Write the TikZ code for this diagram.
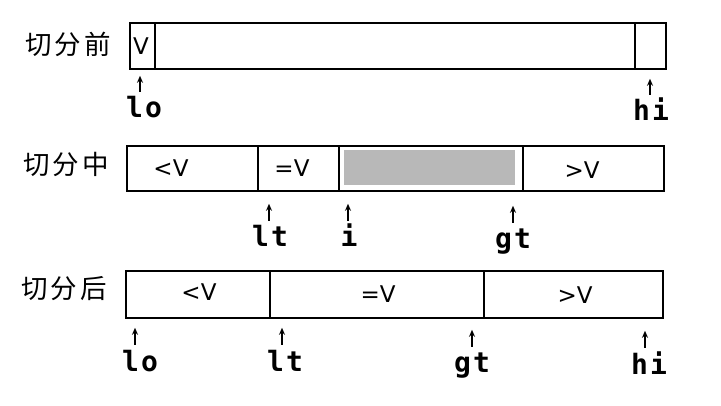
\documentclass[tikz,border=0pt]{standalone}
\usepackage{fontspec}
\usetikzlibrary{arrows.meta}
\newfontfamily\cjk{Noto Sans CJK SC}[LetterSpace=12]
\newfontfamily\cellfont{DejaVu Sans}
\newfontfamily\ptrfont{DejaVu Sans Mono}[BoldFont={DejaVu Sans Mono Bold}, LetterSpace=8]
\tikzset{
  cell/.style={draw=black, line width=1.6pt, inner sep=0pt, anchor=north west},
  graycell/.style={fill=black!28, draw=none, inner sep=0pt, anchor=north west},
  rowlbl/.style={font=\cjk\fontsize{26.5}{26.5}\selectfont, inner sep=0pt},
  val/.style={font=\cellfont\fontsize{23}{23}\selectfont, inner sep=0pt},
  ptrlbl/.style={font=\ptrfont\bfseries\fontsize{28}{28}\selectfont, inner sep=0pt, anchor=base, text height=20pt, text depth=0pt},
  ptr/.style={line width=1.4pt, -{Stealth[length=7pt,width=6pt]}}
}
\begin{document}
\begin{tikzpicture}[x=1pt,y=-1pt]
\useasboundingbox (0,0) rectangle (721,406);
% ---------- row 1 ----------
\node[rowlbl] (t1) at (68,44) {切分前};
\node[cell, minimum width=25pt, minimum height=46pt] (c11) at (129,22) {};
\node[cell, minimum width=480pt, minimum height=46pt] (c12) at (154,22) {};
\node[cell, minimum width=31pt, minimum height=46pt] (c13) at (634,22) {};
\node[val] (v11) at (141,46) {V};
\node[ptrlbl] (lo1) at (144,118) {lo};
\node[ptrlbl] (hi1) at (651,121) {hi};
\draw[ptr] ([xshift=-4pt,yshift=6pt]lo1.north) -- ++(0,-16);
\draw[ptr] ([xshift=-1pt,yshift=6pt]hi1.north) -- ++(0,-16);
% ---------- row 2 ----------
\node[rowlbl] (t2) at (66,164) {切分中};
\node[cell, minimum width=131pt, minimum height=45pt] (c21) at (126,145) {};
\node[cell, minimum width=81pt, minimum height=45pt] (c22) at (257,145) {};
\node[cell, minimum width=184pt, minimum height=45pt] (c23) at (338,145) {};
\node[cell, minimum width=141pt, minimum height=45pt] (c24) at (522,145) {};
\node[graycell, minimum width=171pt, minimum height=35pt] (g23) at (344,150) {};
\node[val] (v21) at (171,168) {<V};
\node[val] (v22) at (292,168) {=V};
\node[val] (v24) at (582,170) {>V};
\node[ptrlbl] (lt2) at (270,247) {lt};
\node[ptrlbl] (i2) at (349,247) {i};
\node[ptrlbl] (gt2) at (513,249) {gt};
\draw[ptr] ([xshift=-1pt,yshift=6pt]lt2.north) -- ++(0,-17);
\draw[ptr] ([xshift=-1pt,yshift=6pt]i2.north) -- ++(0,-17);
\draw[ptr] ([xshift=0pt,yshift=6pt]gt2.north) -- ++(0,-17);
% ---------- row 3 ----------
\node[rowlbl] (t3) at (64,289) {切分后};
\node[cell, minimum width=144pt, minimum height=47pt] (c31) at (125,270) {};
\node[cell, minimum width=214pt, minimum height=47pt] (c32) at (269,270) {};
\node[cell, minimum width=179pt, minimum height=47pt] (c33) at (483,270) {};
\node[val] (v31) at (199,292) {<V};
\node[val] (v32) at (378,294) {=V};
\node[val] (v33) at (575,295) {>V};
\node[ptrlbl] (lo3) at (140,371) {lo};
\node[ptrlbl] (lt3) at (285,371) {lt};
\node[ptrlbl] (gt3) at (472,373) {gt};
\node[ptrlbl] (hi3) at (649,374) {hi};
\draw[ptr] ([xshift=-5pt,yshift=6pt]lo3.north) -- ++(0,-17);
\draw[ptr] ([xshift=-3pt,yshift=6pt]lt3.north) -- ++(0,-17);
\draw[ptr] ([xshift=0pt,yshift=6pt]gt3.north) -- ++(0,-17);
\draw[ptr] ([xshift=-4pt,yshift=6pt]hi3.north) -- ++(0,-17);
\end{tikzpicture}
\end{document}
